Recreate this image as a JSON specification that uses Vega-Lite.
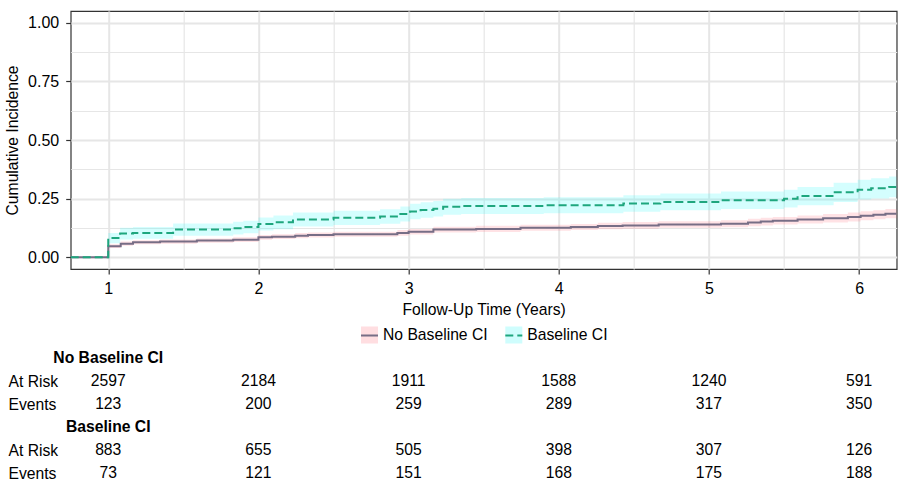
{
  "$schema": "https://vega.github.io/schema/vega-lite/v6.json",
  "background": "white",
  "padding": {"left": 3.7, "top": 10, "right": 5, "bottom": 4},
  "bounds": "flush",
  "spacing": 89.5,
  "config": {
    "font": "Liberation Sans",
    "view": {"stroke": null},
    "axis": {"labelFont": "Liberation Sans", "titleFont": "Liberation Sans"},
    "legend": {"labelFont": "Liberation Sans"},
    "text": {"font": "Liberation Sans"}
  },
  "vconcat": [
    {
      "width": 826,
      "height": 258,
      "view": {"stroke": "#333333", "strokeWidth": 1.2},
      "data": {
        "values": [
          {"group": "No Baseline CI", "time": 0.75, "est": 0, "lo": 0, "hi": 0},
          {"group": "No Baseline CI", "time": 1.0, "est": 0.047, "lo": 0.039, "hi": 0.055},
          {"group": "No Baseline CI", "time": 1.083, "est": 0.058, "lo": 0.049, "hi": 0.067},
          {"group": "No Baseline CI", "time": 1.165, "est": 0.064, "lo": 0.055, "hi": 0.073},
          {"group": "No Baseline CI", "time": 1.345, "est": 0.067, "lo": 0.058, "hi": 0.076},
          {"group": "No Baseline CI", "time": 1.59, "est": 0.071, "lo": 0.062, "hi": 0.08},
          {"group": "No Baseline CI", "time": 1.832, "est": 0.075, "lo": 0.065, "hi": 0.085},
          {"group": "No Baseline CI", "time": 2.0, "est": 0.085, "lo": 0.075, "hi": 0.095},
          {"group": "No Baseline CI", "time": 2.09, "est": 0.088, "lo": 0.078, "hi": 0.098},
          {"group": "No Baseline CI", "time": 2.245, "est": 0.092, "lo": 0.081, "hi": 0.103},
          {"group": "No Baseline CI", "time": 2.33, "est": 0.095, "lo": 0.084, "hi": 0.106},
          {"group": "No Baseline CI", "time": 2.5, "est": 0.098, "lo": 0.087, "hi": 0.109},
          {"group": "No Baseline CI", "time": 2.925, "est": 0.104, "lo": 0.092, "hi": 0.116},
          {"group": "No Baseline CI", "time": 3.0, "est": 0.109, "lo": 0.097, "hi": 0.121},
          {"group": "No Baseline CI", "time": 3.165, "est": 0.118, "lo": 0.106, "hi": 0.13},
          {"group": "No Baseline CI", "time": 3.45, "est": 0.121, "lo": 0.108, "hi": 0.134},
          {"group": "No Baseline CI", "time": 3.745, "est": 0.126, "lo": 0.113, "hi": 0.139},
          {"group": "No Baseline CI", "time": 4.08, "est": 0.129, "lo": 0.116, "hi": 0.142},
          {"group": "No Baseline CI", "time": 4.26, "est": 0.133, "lo": 0.119, "hi": 0.147},
          {"group": "No Baseline CI", "time": 4.425, "est": 0.136, "lo": 0.122, "hi": 0.15},
          {"group": "No Baseline CI", "time": 4.665, "est": 0.14, "lo": 0.126, "hi": 0.154},
          {"group": "No Baseline CI", "time": 5.08, "est": 0.143, "lo": 0.128, "hi": 0.158},
          {"group": "No Baseline CI", "time": 5.26, "est": 0.148, "lo": 0.132, "hi": 0.164},
          {"group": "No Baseline CI", "time": 5.345, "est": 0.152, "lo": 0.136, "hi": 0.168},
          {"group": "No Baseline CI", "time": 5.425, "est": 0.156, "lo": 0.14, "hi": 0.172},
          {"group": "No Baseline CI", "time": 5.59, "est": 0.161, "lo": 0.144, "hi": 0.178},
          {"group": "No Baseline CI", "time": 5.76, "est": 0.166, "lo": 0.148, "hi": 0.184},
          {"group": "No Baseline CI", "time": 5.925, "est": 0.172, "lo": 0.153, "hi": 0.191},
          {"group": "No Baseline CI", "time": 6.01, "est": 0.177, "lo": 0.158, "hi": 0.196},
          {"group": "No Baseline CI", "time": 6.095, "est": 0.181, "lo": 0.162, "hi": 0.2},
          {"group": "No Baseline CI", "time": 6.175, "est": 0.186, "lo": 0.166, "hi": 0.206},
          {"group": "No Baseline CI", "time": 6.25, "est": 0.186, "lo": 0.166, "hi": 0.206},
          {"group": "Baseline CI", "time": 0.75, "est": 0, "lo": 0, "hi": 0},
          {"group": "Baseline CI", "time": 1.0, "est": 0.082, "lo": 0.06, "hi": 0.104},
          {"group": "Baseline CI", "time": 1.079, "est": 0.101, "lo": 0.076, "hi": 0.126},
          {"group": "Baseline CI", "time": 1.165, "est": 0.104, "lo": 0.079, "hi": 0.129},
          {"group": "Baseline CI", "time": 1.432, "est": 0.118, "lo": 0.092, "hi": 0.144},
          {"group": "Baseline CI", "time": 1.832, "est": 0.124, "lo": 0.097, "hi": 0.151},
          {"group": "Baseline CI", "time": 1.9, "est": 0.129, "lo": 0.102, "hi": 0.156},
          {"group": "Baseline CI", "time": 2.0, "est": 0.142, "lo": 0.114, "hi": 0.17},
          {"group": "Baseline CI", "time": 2.1, "est": 0.149, "lo": 0.12, "hi": 0.178},
          {"group": "Baseline CI", "time": 2.23, "est": 0.161, "lo": 0.131, "hi": 0.191},
          {"group": "Baseline CI", "time": 2.5, "est": 0.168, "lo": 0.138, "hi": 0.198},
          {"group": "Baseline CI", "time": 2.81, "est": 0.174, "lo": 0.143, "hi": 0.205},
          {"group": "Baseline CI", "time": 2.945, "est": 0.185, "lo": 0.153, "hi": 0.217},
          {"group": "Baseline CI", "time": 3.01, "est": 0.195, "lo": 0.162, "hi": 0.228},
          {"group": "Baseline CI", "time": 3.08, "est": 0.202, "lo": 0.169, "hi": 0.235},
          {"group": "Baseline CI", "time": 3.165, "est": 0.207, "lo": 0.174, "hi": 0.24},
          {"group": "Baseline CI", "time": 3.23, "est": 0.215, "lo": 0.181, "hi": 0.249},
          {"group": "Baseline CI", "time": 3.35, "est": 0.219, "lo": 0.185, "hi": 0.253},
          {"group": "Baseline CI", "time": 3.9, "est": 0.222, "lo": 0.188, "hi": 0.256},
          {"group": "Baseline CI", "time": 4.43, "est": 0.229, "lo": 0.194, "hi": 0.264},
          {"group": "Baseline CI", "time": 4.676, "est": 0.236, "lo": 0.2, "hi": 0.272},
          {"group": "Baseline CI", "time": 5.08, "est": 0.243, "lo": 0.206, "hi": 0.28},
          {"group": "Baseline CI", "time": 5.5, "est": 0.25, "lo": 0.212, "hi": 0.288},
          {"group": "Baseline CI", "time": 5.59, "est": 0.261, "lo": 0.222, "hi": 0.3},
          {"group": "Baseline CI", "time": 5.83, "est": 0.277, "lo": 0.236, "hi": 0.318},
          {"group": "Baseline CI", "time": 5.99, "est": 0.288, "lo": 0.246, "hi": 0.33},
          {"group": "Baseline CI", "time": 6.08, "est": 0.294, "lo": 0.251, "hi": 0.337},
          {"group": "Baseline CI", "time": 6.2, "est": 0.3, "lo": 0.256, "hi": 0.344},
          {"group": "Baseline CI", "time": 6.25, "est": 0.3, "lo": 0.256, "hi": 0.344}
        ]
      },
      "encoding": {
        "x": {
          "field": "time",
          "type": "quantitative",
          "scale": {"domain": [0.75, 6.25], "nice": false, "zero": false},
          "axis": {
            "title": "Follow-Up Time (Years)",
            "values": [1, 1.5, 2, 2.5, 3, 3.5, 4, 4.5, 5, 5.5, 6],
            "labelExpr": "datum.value % 1 === 0 ? format(datum.value, 'd') : ''",
            "labelOverlap": false,
            "labelFlush": false,
            "grid": true,
            "gridColor": "#e6e6e6",
            "gridWidth": {"condition": {"test": "datum.value % 1 === 0", "value": 2}, "value": 1.2},
            "domain": false,
            "tickSize": 5,
            "tickColor": "#333333",
            "tickWidth": 1.2,
            "tickOpacity": {"condition": {"test": "datum.value % 1 === 0", "value": 1}, "value": 0},
            "labelFontSize": 16,
            "labelColor": "#000000",
            "labelPadding": 6.5,
            "titleFontSize": 15.7,
            "titleFontWeight": "normal",
            "titleColor": "#000000",
            "titlePadding": 6.5
          }
        },
        "y": {
          "type": "quantitative",
          "scale": {"domain": [-0.05, 1.05], "nice": false, "zero": false},
          "axis": {
            "title": "Cumulative Incidence",
            "values": [0, 0.125, 0.25, 0.375, 0.5, 0.625, 0.75, 0.875, 1],
            "labelExpr": "(datum.value * 8) % 2 === 0 ? format(datum.value, '.2f') : ''",
            "labelOverlap": false,
            "labelFlush": false,
            "grid": true,
            "gridColor": "#e6e6e6",
            "gridWidth": {"condition": {"test": "(datum.value * 8) % 2 === 0", "value": 2}, "value": 1.2},
            "domain": false,
            "tickSize": 5,
            "tickColor": "#333333",
            "tickWidth": 1.2,
            "tickOpacity": {"condition": {"test": "(datum.value * 8) % 2 === 0", "value": 1}, "value": 0},
            "labelFontSize": 16,
            "labelColor": "#000000",
            "labelPadding": 7,
            "titleFontSize": 15.7,
            "titleFontWeight": "normal",
            "titleColor": "#000000",
            "titlePadding": 6.6
          }
        }
      },
      "layer": [
        {
          "mark": {"type": "area", "interpolate": "step-after", "clip": true, "opacity": 0.2},
          "encoding": {
            "y": {"field": "lo", "type": "quantitative"},
            "y2": {"field": "hi"},
            "fill": {
              "field": "group",
              "type": "nominal",
              "sort": "descending",
              "scale": {"range": ["#ff6f7c", "#2afafa"]},
              "legend": {
                "orient": "none",
                "legendX": 289.3,
                "legendY": 314.5,
                "direction": "horizontal",
                "title": null,
                "padding": 0,
                "symbolType": "square",
                "symbolSize": 289,
                "symbolStrokeWidth": 2,
                "symbolStrokeColor": "transparent",
                "symbolOpacity": 0.22,
                "labelOpacity": 0,
                "labelFontSize": 15.7,
                "labelOffset": 4,
                "columnPadding": 13.3,
                "zindex": 0
              }
            }
          }
        },
        {
          "transform": [{"filter": "datum.group === 'No Baseline CI'"}],
          "mark": {"type": "line", "interpolate": "step-after", "clip": true, "strokeWidth": 2},
          "encoding": {
            "y": {"field": "est", "type": "quantitative"},
            "stroke": {
              "field": "group",
              "type": "nominal",
              "scale": {"domain": ["No Baseline CI", "Baseline CI"], "range": ["#776e86", "#1ea67e"]},
              "legend": {
                "orient": "none",
                "legendX": 289.3,
                "legendY": 314.5,
                "direction": "horizontal",
                "title": null,
                "padding": 0,
                "symbolType": "stroke",
                "symbolSize": 289,
                "symbolStrokeWidth": 2,
                "labelFontSize": 15.7,
                "labelColor": "#000000",
                "labelOffset": 4,
                "columnPadding": 13.3,
                "zindex": 1,
                "encode": {
                  "symbols": {
                    "update": {
                      "strokeDash": {"signal": "datum.value === 'Baseline CI' ? [3, 2] : [1, 0]"}
                    }
                  }
                }
              }
            },
            "strokeDash": {
              "field": "group",
              "type": "nominal",
              "scale": {"domain": ["No Baseline CI", "Baseline CI"], "range": [[1, 0], [8, 4]]},
              "legend": {
                "orient": "none",
                "legendX": 289.3,
                "legendY": 314.5,
                "direction": "horizontal",
                "title": null,
                "padding": 0,
                "symbolType": "stroke",
                "symbolSize": 289,
                "symbolStrokeWidth": 2,
                "labelFontSize": 15.7,
                "labelColor": "#000000",
                "labelOffset": 4,
                "columnPadding": 13.3,
                "zindex": 1
              }
            }
          }
        },
        {
          "transform": [{"filter": "datum.group === 'Baseline CI'"}],
          "mark": {"type": "line", "interpolate": "step-after", "clip": true, "strokeWidth": 2},
          "encoding": {
            "y": {"field": "est", "type": "quantitative"},
            "stroke": {
              "field": "group",
              "type": "nominal",
              "scale": {"domain": ["No Baseline CI", "Baseline CI"], "range": ["#776e86", "#1ea67e"]},
              "legend": {
                "orient": "none",
                "legendX": 289.3,
                "legendY": 314.5,
                "direction": "horizontal",
                "title": null,
                "padding": 0,
                "symbolType": "stroke",
                "symbolSize": 289,
                "symbolStrokeWidth": 2,
                "labelFontSize": 15.7,
                "labelColor": "#000000",
                "labelOffset": 4,
                "columnPadding": 13.3,
                "zindex": 1,
                "encode": {
                  "symbols": {
                    "update": {
                      "strokeDash": {"signal": "datum.value === 'Baseline CI' ? [3, 2] : [1, 0]"}
                    }
                  }
                }
              }
            },
            "strokeDash": {
              "field": "group",
              "type": "nominal",
              "scale": {"domain": ["No Baseline CI", "Baseline CI"], "range": [[1, 0], [8, 4]]},
              "legend": {
                "orient": "none",
                "legendX": 289.3,
                "legendY": 314.5,
                "direction": "horizontal",
                "title": null,
                "padding": 0,
                "symbolType": "stroke",
                "symbolSize": 289,
                "symbolStrokeWidth": 2,
                "labelFontSize": 15.7,
                "labelColor": "#000000",
                "labelOffset": 4,
                "columnPadding": 13.3,
                "zindex": 1
              }
            }
          }
        }
      ]
    },
    {
      "width": 826,
      "height": 115,
      "data": {
        "values": [
          {"row": "No Baseline CI", "kind": "header", "label": "No Baseline CI", "time": 1},
          {"row": "No Baseline CI|At Risk", "kind": "count", "time": 1, "n": 2597},
          {"row": "No Baseline CI|At Risk", "kind": "count", "time": 2, "n": 2184},
          {"row": "No Baseline CI|At Risk", "kind": "count", "time": 3, "n": 1911},
          {"row": "No Baseline CI|At Risk", "kind": "count", "time": 4, "n": 1588},
          {"row": "No Baseline CI|At Risk", "kind": "count", "time": 5, "n": 1240},
          {"row": "No Baseline CI|At Risk", "kind": "count", "time": 6, "n": 591},
          {"row": "No Baseline CI|Events", "kind": "count", "time": 1, "n": 123},
          {"row": "No Baseline CI|Events", "kind": "count", "time": 2, "n": 200},
          {"row": "No Baseline CI|Events", "kind": "count", "time": 3, "n": 259},
          {"row": "No Baseline CI|Events", "kind": "count", "time": 4, "n": 289},
          {"row": "No Baseline CI|Events", "kind": "count", "time": 5, "n": 317},
          {"row": "No Baseline CI|Events", "kind": "count", "time": 6, "n": 350},
          {"row": "Baseline CI", "kind": "header", "label": "Baseline CI", "time": 1},
          {"row": "Baseline CI|At Risk", "kind": "count", "time": 1, "n": 883},
          {"row": "Baseline CI|At Risk", "kind": "count", "time": 2, "n": 655},
          {"row": "Baseline CI|At Risk", "kind": "count", "time": 3, "n": 505},
          {"row": "Baseline CI|At Risk", "kind": "count", "time": 4, "n": 398},
          {"row": "Baseline CI|At Risk", "kind": "count", "time": 5, "n": 307},
          {"row": "Baseline CI|At Risk", "kind": "count", "time": 6, "n": 126},
          {"row": "Baseline CI|Events", "kind": "count", "time": 1, "n": 73},
          {"row": "Baseline CI|Events", "kind": "count", "time": 2, "n": 121},
          {"row": "Baseline CI|Events", "kind": "count", "time": 3, "n": 151},
          {"row": "Baseline CI|Events", "kind": "count", "time": 4, "n": 168},
          {"row": "Baseline CI|Events", "kind": "count", "time": 5, "n": 175},
          {"row": "Baseline CI|Events", "kind": "count", "time": 6, "n": 188}
        ]
      },
      "encoding": {
        "x": {
          "field": "time",
          "type": "quantitative",
          "scale": {"domain": [0.75, 6.25], "nice": false, "zero": false},
          "axis": null
        },
        "y": {
          "field": "row",
          "type": "ordinal",
          "scale": {
            "type": "point",
            "padding": 0,
            "domain": ["No Baseline CI", "No Baseline CI|At Risk", "No Baseline CI|Events", "Baseline CI", "Baseline CI|At Risk", "Baseline CI|Events"]
          },
          "axis": {
            "title": null,
            "domain": false,
            "ticks": false,
            "tickSize": 0,
            "grid": false,
            "labelAlign": "left",
            "labelPadding": 62.7,
            "labelFontSize": 15.7,
            "labelColor": "#000000",
            "labelExpr": "split(datum.value, '|')[1] || ''"
          }
        }
      },
      "layer": [
        {
          "transform": [{"filter": "datum.kind === 'count'"}],
          "mark": {"type": "text", "fontSize": 15.7, "align": "center", "baseline": "middle", "color": "#000000"},
          "encoding": {"text": {"field": "n", "type": "quantitative", "format": "d"}}
        },
        {
          "transform": [{"filter": "datum.kind === 'header'"}],
          "mark": {"type": "text", "fontSize": 15.7, "fontWeight": "bold", "align": "center", "baseline": "middle", "color": "#000000"},
          "encoding": {"text": {"field": "label", "type": "nominal"}}
        }
      ]
    }
  ]
}
